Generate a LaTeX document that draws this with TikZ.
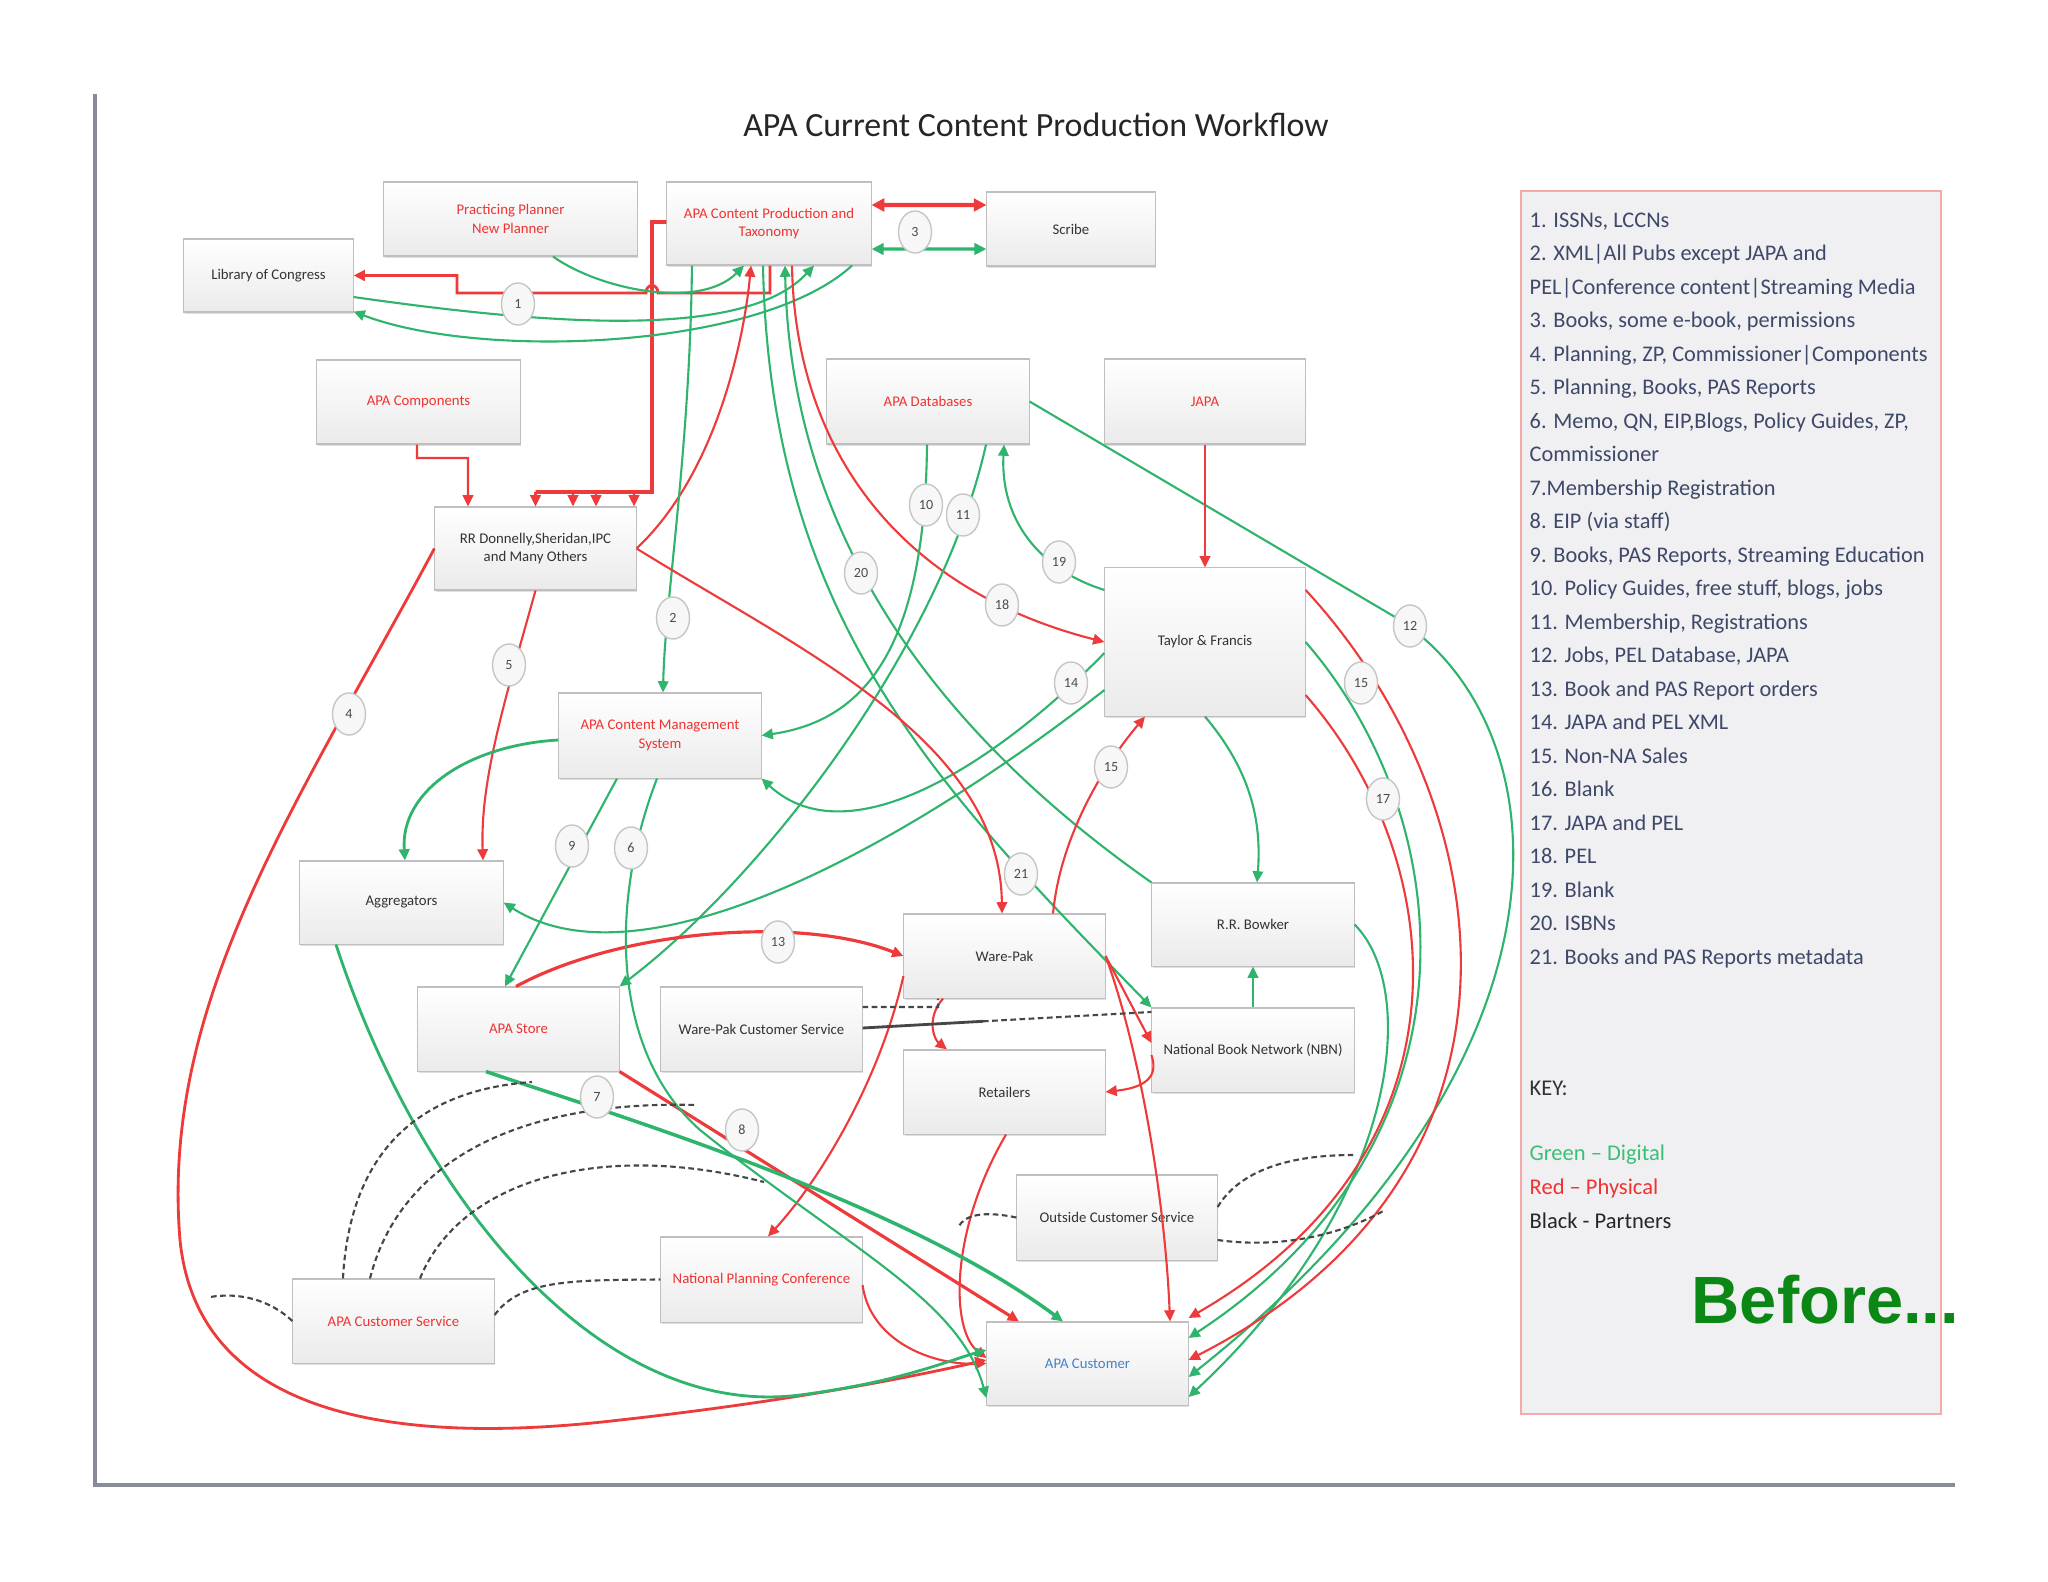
\documentclass[tikz,border=0pt]{standalone}
\usepackage{fontspec}
\setmainfont{Carlito}
\newfontfamily\befont{Liberation Sans}
\usetikzlibrary{arrows.meta,shapes.geometric,shadows}
\definecolor{gr}{RGB}{46,180,108}
\definecolor{rd}{RGB}{238,58,58}
\definecolor{txred}{RGB}{240,50,50}
\definecolor{custblue}{RGB}{70,130,200}
\definecolor{legc}{RGB}{62,72,104}
\definecolor{framec}{RGB}{135,140,150}
\definecolor{keygreen}{RGB}{60,190,120}
\definecolor{beforegreen}{RGB}{10,135,20}
\definecolor{legfill}{RGB}{240,240,243}
\definecolor{legdraw}{RGB}{245,170,170}
\begin{document}
\begin{tikzpicture}[x=0.01cm,y=-0.01cm,
  box/.style={draw=gray!50, line width=0.3pt, top color=white, bottom color=gray!16,
    align=center, inner sep=1pt, font=\fontsize{4.2}{5.2}\selectfont, text=black!80,
    drop shadow={shadow xshift=0.4pt, shadow yshift=-0.6pt, opacity=0.25}},
  sz/.style 2 args={minimum width=#1, minimum height=#2},
  redtx/.style={text=txred},
  tip/.style={-{Triangle[length=3.2pt,width=3pt]}},
  gl/.style={draw=gr, line width=0.6pt, tip},
  rl/.style={draw=rd, line width=0.6pt, tip},
  gn/.style={draw=gr, line width=0.6pt},
  pl/.style={draw=gray!55!black, line width=0.6pt, dash pattern=on 1.6pt off 1pt},
  numlbl/.style={ellipse, draw=gray!45, fill=gray!6, line width=0.4pt,
    minimum width=0.33cm, minimum height=0.42cm, inner sep=0pt,
    font=\fontsize{4}{5}\selectfont, text=black!70}
]
\useasboundingbox (0,0) rectangle (2048,1582);
\fill[white] (0,0) rectangle (2048,1582);

% frame
\draw[framec, line width=1.2pt] (95,94) -- (95,1485) -- (1955,1485);

% title
\node[font=\fontsize{9.65}{12}\selectfont, text=black!85] (title) at (1036,125) {APA Current Content Production Workflow};

% legend box
\draw[draw=legdraw, fill=legfill, line width=0.6pt] (1521,191) rectangle (1941,1414);
\node[anchor=north west, align=left, inner sep=0pt, text=legc, font=\fontsize{6.35}{9.53}\selectfont] (legend) at (1529,212) {1. ISSNs, LCCNs\\
2. XML|All Pubs except JAPA and\\
PEL|Conference content|Streaming Media\\
3. Books, some e-book, permissions\\
4. Planning, ZP, Commissioner|Components\\
5. Planning, Books, PAS Reports\\
6. Memo, QN, EIP,Blogs, Policy Guides, ZP,\\
Commissioner\\
7.Membership Registration\\
8. EIP (via staff)\\
9. Books, PAS Reports, Streaming Education\\
10. Policy Guides, free stuff, blogs, jobs\\
11. Membership, Registrations\\
12. Jobs, PEL Database, JAPA\\
13. Book and PAS Report orders\\
14. JAPA and PEL XML\\
15. Non-NA Sales\\
16. Blank\\
17. JAPA and PEL\\
18. PEL\\
19. Blank\\
20. ISBNs\\
21. Books and PAS Reports metadata};
\node[anchor=west, inner sep=0pt, text=black!80, font=\fontsize{6.4}{8}\selectfont] (key) at (1529,1088) {KEY:};
\node[anchor=west, inner sep=0pt, text=keygreen, font=\fontsize{6.4}{8}\selectfont] (kg) at (1529,1155) {Green – Digital};
\node[anchor=west, inner sep=0pt, text=txred, font=\fontsize{6.4}{8}\selectfont] (kr) at (1529,1188) {Red – Physical};
\node[anchor=west, inner sep=0pt, text=black!85, font=\fontsize{6.4}{8}\selectfont] (kb) at (1529,1221) {Black - Partners};
\node[anchor=west, inner sep=0pt, text=beforegreen, font=\befont\bfseries\fontsize{19}{22}\selectfont] (before) at (1691,1300) {Before...};

% boxes
\node[box, sz={1.69cm}{0.73cm}] (loc) at (268.5,275.5) {Library of Congress};
\node[box, sz={2.53cm}{0.74cm}, redtx] (pp) at (510.5,219) {Practicing Planner\\New Planner};
\node[box, sz={2.04cm}{0.83cm}, redtx] (cpt) at (769,223.5) {APA Content Production and\\Taxonomy};
\node[box, sz={1.68cm}{0.74cm}] (scribe) at (1071,229) {Scribe};
\node[box, sz={2.03cm}{0.84cm}, redtx] (comp) at (418.5,402) {APA Components};
\node[box, sz={2.02cm}{0.85cm}, redtx] (db) at (928,401.5) {APA Databases};
\node[box, sz={2.00cm}{0.85cm}, redtx] (japa) at (1205,401.5) {JAPA};
\node[box, sz={2.01cm}{0.83cm}] (rr) at (535.5,548.5) {RR Donnelly,Sheridan,IPC\\and Many Others};
\node[box, sz={2.00cm}{1.48cm}] (tf) at (1205,642) {Taylor \& Francis};
\node[box, sz={2.02cm}{0.85cm}, redtx] (cms) at (660,735.5) {APA Content Management\\System};
\node[box, sz={2.03cm}{0.83cm}] (agg) at (401.5,902.5) {Aggregators};
\node[box, sz={2.02cm}{0.83cm}] (bowker) at (1253,924.5) {R.R. Bowker};
\node[box, sz={2.01cm}{0.84cm}] (wp) at (1004.5,956) {Ware-Pak};
\node[box, sz={2.01cm}{0.84cm}, redtx] (store) at (518.5,1029) {APA Store};
\node[box, sz={2.01cm}{0.84cm}] (wpcs) at (761.5,1029) {Ware-Pak Customer Service};
\node[box, sz={2.02cm}{0.84cm}] (nbn) at (1253,1050) {National Book Network (NBN)};
\node[box, sz={2.01cm}{0.84cm}] (ret) at (1004.5,1092) {Retailers};
\node[box, sz={2.00cm}{0.85cm}] (ocs) at (1117,1217.5) {Outside Customer Service};
\node[box, sz={2.01cm}{0.85cm}, redtx] (npc) at (761.5,1279.5) {National Planning Conference};
\node[box, sz={2.01cm}{0.84cm}, redtx] (acs) at (393.5,1321) {APA Customer Service};
\node[box, sz={2.01cm}{0.83cm}, text=custblue] (cust) at (1087.5,1363.5) {APA Customer};

% ---- top connectors
\draw[draw=rd, line width=1.2pt, {Triangle[length=3.6pt,width=3.6pt]}-{Triangle[length=3.6pt,width=3.6pt]}] ([yshift=0.185cm]cpt.east) -- ([yshift=0.24cm]scribe.west);
\draw[draw=gr, line width=0.9pt, {Triangle[length=3.4pt,width=3.2pt]}-{Triangle[length=3.4pt,width=3.2pt]}] ([yshift=-0.255cm]cpt.east) -- ([yshift=-0.2cm]scribe.west);
\draw[rl, line width=0.8pt] ([xshift=0.01cm]cpt.south) -- (770,293) -- (658,293) .. controls (658,283) and (646,283) .. (646,293) -- (457,293) -- (457,275.5) -- (loc.east);
\draw[draw=rd, line width=1pt] ([yshift=0.015cm]cpt.west) -- (652,222) -- (652,492) -- (535.5,492);
\coordinate (b1) at (535.5,492);
\coordinate (b2) at (573,492);
\coordinate (b3) at (596,492);
\coordinate (b4) at (634,492);
\draw[rl] (b1) -- (rr.north);
\draw[rl] (b2) -- ([xshift=0.375cm]rr.north);
\draw[rl] (b3) -- ([xshift=0.605cm]rr.north);
\draw[rl] (b4) -- ([xshift=0.985cm]rr.north);
\draw[rl] ([xshift=-0.015cm]comp.south) -- (417,458) -- (468,458) -- ([xshift=-0.675cm]rr.north);
\draw[gl] ([xshift=0.425cm]pp.south) .. controls (600,290) and (700,310) .. ([xshift=-0.25cm]cpt.south);
\draw[gl] ([yshift=-0.215cm]loc.east) .. controls (550,325) and (745,340) .. ([xshift=0.45cm]cpt.south);
\draw[gl] ([xshift=0.83cm]cpt.south) .. controls (760,350) and (480,360) .. ([yshift=-0.36cm]loc.east);
\draw[rl] (rr.east) .. controls (720,470) and (745,330) .. ([xshift=-0.18cm]cpt.south);
\draw[gl] ([xshift=-0.77cm]cpt.south) .. controls (690,450) and (665,600) .. ([xshift=0.03cm]cms.north);
\draw[gl] ([xshift=-0.06cm]cpt.south) .. controls (770,620) and (940,790) .. (nbn.north west);
\draw[gl] (bowker.north west) .. controls (920,720) and (790,520) .. ([xshift=0.16cm]cpt.south);
\draw[rl] ([xshift=0.23cm]cpt.south) .. controls (795,450) and (900,590) .. (tf.west);

% ---- databases / T&F
\draw[gl] ([xshift=-0.01cm]db.south) .. controls (925,640) and (870,720) .. (cms.east);
\draw[gl] ([xshift=0.58cm]db.south) .. controls (940,650) and (760,880) .. (store.north east);
\draw[gl] ([yshift=0.52cm]tf.west) .. controls (1040,570) and (1000,520) .. ([xshift=0.76cm]db.south);
\draw[gl] (db.east) -- (1395,617) .. controls (1560,720) and (1600,1050) .. ([yshift=-0.135cm]cust.east);
\draw[rl] (japa.south) -- (tf.north);
\draw[rl] ([xshift=0.485cm]wp.north) .. controls (1060,840) and (1100,770) .. ([xshift=-0.6cm]tf.south);
\draw[gl] ([yshift=-0.11cm]tf.west) .. controls (1000,760) and (850,860) .. (cms.south east);
\draw[gl] ([yshift=-0.48cm]tf.west) .. controls (900,850) and (640,990) .. (agg.east);
\draw[gl] (tf.south) .. controls (1250,770) and (1262,820) .. ([xshift=0.04cm]bowker.north);
\draw[gl] (nbn.north) -- (bowker.south);
\draw[gl] (bowker.east) .. controls (1420,990) and (1400,1200) .. ([yshift=-0.335cm]cust.east);
\draw[rl] ([yshift=0.52cm]tf.east) .. controls (1500,800) and (1560,1170) .. ([yshift=0.035cm]cust.east);
\draw[gl] (tf.east) .. controls (1460,820) and (1490,1140) .. ([yshift=0.255cm]cust.east);
\draw[rl] ([yshift=-0.53cm]tf.east) .. controls (1450,860) and (1480,1150) .. ([yshift=0.455cm]cust.east);

% ---- middle / lower
\draw[rl] (rr.east) .. controls (800,650) and (1000,740) .. ([xshift=-0.025cm]wp.north);
\draw[rl, line width=0.9pt] ([xshift=-0.025cm]store.north) .. controls (620,930) and (800,915) .. (wp.west);
\draw[rl] ([yshift=-0.2cm]wp.west) .. controls (880,1080) and (820,1180) .. ([xshift=0.065cm]npc.north);
\draw[rl] ([xshift=-0.615cm]wp.south) .. controls (925,1020) and (935,1040) .. ([xshift=-0.575cm]ret.north);
\draw[rl] (wp.east) -- ([yshift=0.07cm]nbn.west);
\draw[rl] ([yshift=-0.05cm]nbn.west) .. controls (1160,1080) and (1140,1088) .. (ret.east);
\draw[rl] (wp.east) .. controls (1140,1050) and (1165,1200) .. ([xshift=0.825cm]cust.north);
\draw[rl] ([xshift=0.015cm]ret.south) .. controls (950,1230) and (950,1330) .. ([yshift=0.055cm]cust.west);
\draw[rl] ([yshift=-0.055cm]npc.east) .. controls (870,1340) and (930,1365) .. (cust.west);
\draw[rl, line width=0.9pt] (store.south east) -- ([xshift=-0.685cm]cust.north);
\draw[gl, line width=1pt] ([xshift=-0.325cm]store.south) .. controls (600,1110) and (900,1200) .. ([xshift=-0.245cm]cust.north);
\draw[rl, line width=0.8pt] (rr.west) .. controls (300,800) and (160,1000) .. (180,1240) .. controls (200,1440) and (450,1440) .. (620,1420) .. controls (800,1400) and (920,1375) .. ([yshift=0.035cm]cust.west);
\draw[rl] (rr.south) .. controls (505,700) and (480,780) .. ([xshift=0.815cm]agg.north);
\draw[gl, line width=0.8pt] ([yshift=-0.045cm]cms.west) .. controls (470,745) and (400,790) .. ([xshift=0.035cm]agg.north);
\draw[gl] ([xshift=-0.43cm]cms.south) -- ([xshift=-0.135cm]store.north);
\draw[gl] ([xshift=-0.03cm]cms.south) .. controls (610,900) and (610,1050) .. (700,1130) .. controls (850,1250) and (960,1300) .. ([yshift=-0.345cm]cust.west);
\draw[gl, line width=0.8pt] ([xshift=-0.655cm]agg.south) .. controls (420,1200) and (600,1420) .. (800,1395) .. controls (900,1382) and (950,1360) .. ([yshift=0.135cm]cust.west);

% ---- partner (dashed) links
\draw[pl] ([yshift=0.22cm]wpcs.east) -- (938,1007) -- ([xshift=-0.665cm]wp.south);
\draw[draw=gray!55!black, line width=0.8pt] ([yshift=0.01cm]wpcs.east) -- (983,1021.3);
\draw[pl] (983,1021.3) -- ([yshift=0.38cm]nbn.west);
\coordinate (d3) at (532,1082);
\coordinate (d4) at (697,1105);
\coordinate (d5) at (764,1182);
\coordinate (d7) at (210,1297);
\coordinate (d8) at (958,1228);
\coordinate (d9) at (1353,1155);
\coordinate (d10) at (1385,1210);
\draw[pl] ([xshift=-0.505cm]acs.north) .. controls (350,1150) and (420,1090) .. (d3);
\draw[pl] ([xshift=-0.235cm]acs.north) .. controls (400,1160) and (520,1100) .. (d4);
\draw[pl] ([xshift=0.265cm]acs.north) .. controls (460,1180) and (600,1140) .. (d5);
\draw[pl] ([yshift=0.06cm]acs.east) .. controls (520,1280) and (570,1280) .. (npc.west);
\draw[pl] (acs.west) .. controls (270,1300) and (240,1292) .. (d7);
\draw[pl] (ocs.west) .. controls (990,1212) and (965,1212) .. (d8);
\draw[pl] ([yshift=0.105cm]ocs.east) .. controls (1240,1170) and (1290,1155) .. (d9);
\draw[pl] ([yshift=-0.225cm]ocs.east) .. controls (1290,1250) and (1350,1230) .. (d10);

% ---- number labels
\node[numlbl] (n1) at (518,304) {1};
\node[numlbl] (n3) at (915,232) {3};
\node[numlbl] (n2) at (673,618) {2};
\node[numlbl] (n5) at (509,665) {5};
\node[numlbl] (n4) at (349,714) {4};
\node[numlbl] (n10) at (926,505) {10};
\node[numlbl] (n11) at (963,515) {11};
\node[numlbl] (n19) at (1059,562) {19};
\node[numlbl] (n20) at (861,573) {20};
\node[numlbl] (n18) at (1002,605) {18};
\node[numlbl] (n14) at (1071,683) {14};
\node[numlbl] (n12) at (1410,626) {12};
\node[numlbl] (n15a) at (1361,683) {15};
\node[numlbl] (n15b) at (1111,767) {15};
\node[numlbl] (n17) at (1383,799) {17};
\node[numlbl] (n9) at (572,846) {9};
\node[numlbl] (n6) at (631,848) {6};
\node[numlbl] (n21) at (1021,874) {21};
\node[numlbl] (n13) at (778,942) {13};
\node[numlbl] (n7) at (597,1097) {7};
\node[numlbl] (n8) at (742,1130) {8};
\end{tikzpicture}
\end{document}
